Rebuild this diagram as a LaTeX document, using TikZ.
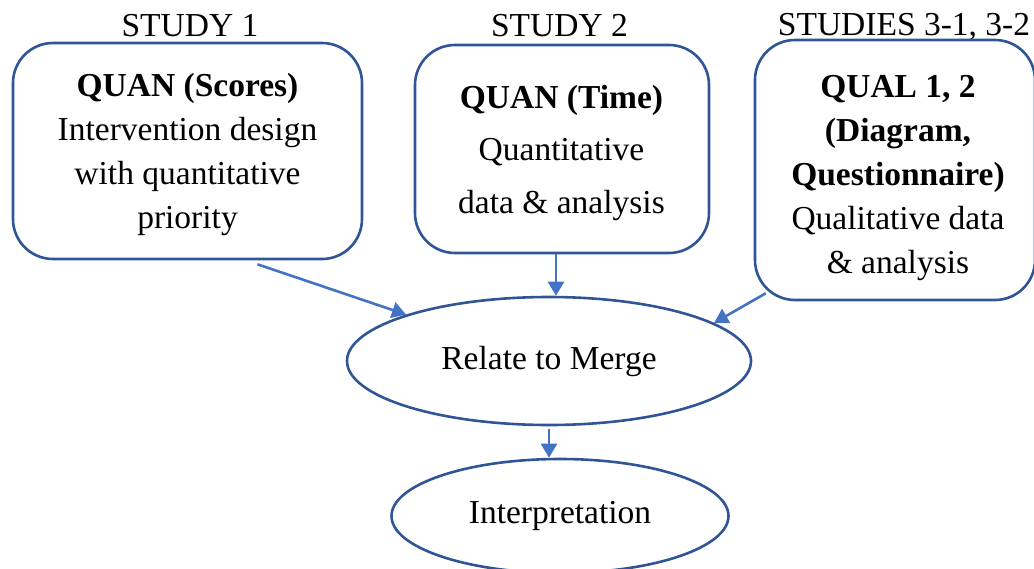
\documentclass[tikz,border=0pt]{standalone}
\usepackage{fontspec}
\setmainfont{Liberation Serif}
\usetikzlibrary{shapes.geometric,arrows.meta}
\definecolor{boxblue}{RGB}{47,85,151}
\definecolor{arrowblue}{RGB}{68,114,196}
\tikzset{
  studybox/.style={draw=boxblue, line width=2.6pt, rounded corners=40pt, inner sep=0pt},
  boxtext/.style={align=center, inner sep=0pt},
  oval/.style={draw=boxblue, line width=2.6pt, ellipse, inner sep=0pt},
  heading/.style={anchor=base, inner sep=0pt},
  flow/.style={draw=arrowblue, line width=2.6pt, -{Triangle[width=16pt,length=14pt]}},
}
\begin{document}
\begin{tikzpicture}[x=1pt, y=-1pt, font=\fontsize{33.5}{44}\selectfont]
\useasboundingbox (0,0) rectangle (1034,568);

% study headings
\node[heading] (h1) at (190,36) {STUDY 1};
\node[heading] (h2) at (559.5,36) {STUDY 2};
\node[heading] (h3) at (904,35) {STUDIES 3-1, 3-2};

% study boxes
\node[studybox, minimum width=349pt, minimum height=216pt] (b1) at (187.5,151) {};
\node[studybox, minimum width=294pt, minimum height=208pt] (b2) at (562,149) {};
\node[studybox, minimum width=280pt, minimum height=260pt] (b3) at (895,170) {};

\node[boxtext] (t1) at (187.5,154) {\textbf{QUAN (Scores)}\\Intervention design\\with quantitative\\priority};
\node[boxtext, font=\fontsize{33.5}{52.5}\selectfont] (t2) at (561.5,152.5) {\textbf{QUAN (Time)}\\Quantitative\\data \& analysis};
\node[boxtext] (t3) at (898,178) {\textbf{QUAL 1, 2}\\\textbf{(Diagram,}\\\textbf{Questionnaire)}\\Qualitative data\\\& analysis};

% merge and interpretation
\node[oval, minimum width=404pt, minimum height=128pt] (m) at (549,361) {Relate to Merge};
\node[oval, minimum width=337pt, minimum height=114pt] (i) at (560,516) {Interpretation};

% connectors
\draw[flow] ([shift={(70pt,-4pt)}]b1.south) -- (m.162);
\draw[flow] ([xshift=-6pt]b2.south) -- ([xshift=-6pt]b2.south |- m.north);
\draw[flow] ([shift={(12pt,8pt)}]b3.south west) -- (m.13);
\draw[flow] ([yshift=-3pt]m.south) -- (m.south |- i.north);
\end{tikzpicture}
\end{document}
